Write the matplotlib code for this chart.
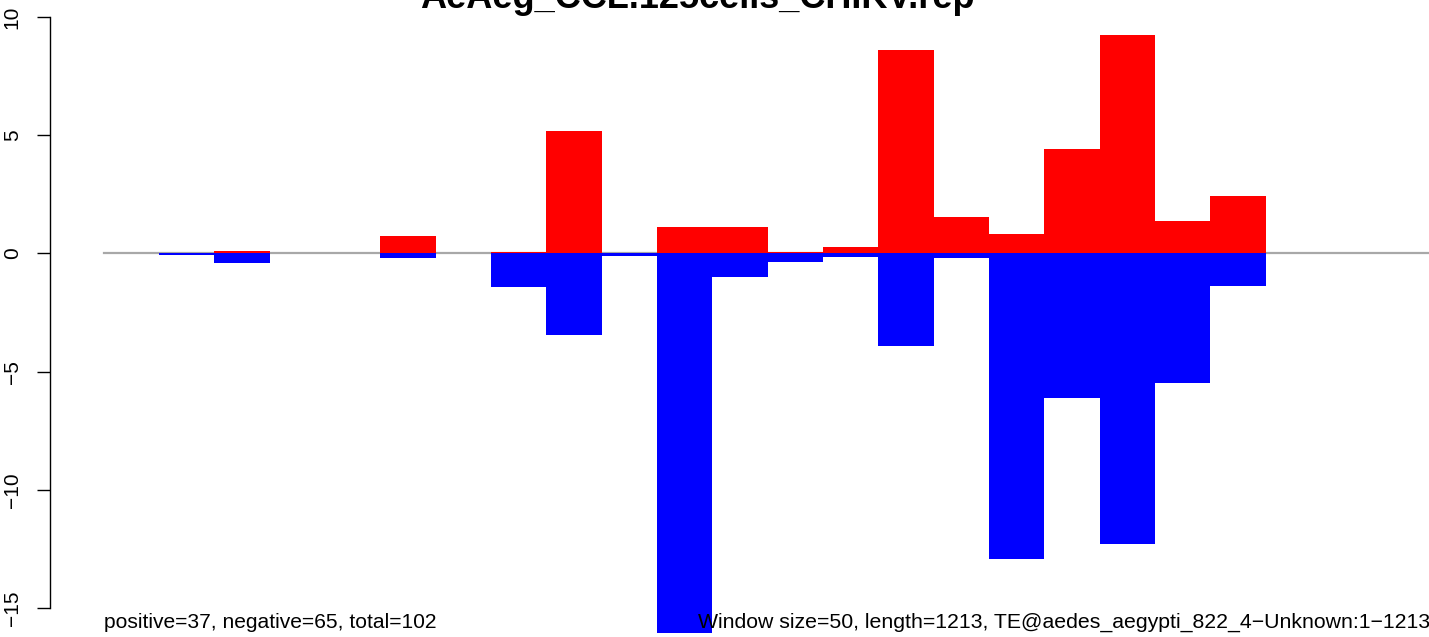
import numpy as np
import matplotlib
matplotlib.use("Agg")
import matplotlib.pyplot as plt

plt.rcParams['font.family'] = ['Liberation Sans', 'DejaVu Sans']

# window coverage, 50 bp windows over a 1213 bp TE
window_size = 50
te_length = 1213
pos_values = [0, 0, 0.10, 0, 0, 0.74, 0, 0.06, 5.18, 0, 1.12, 1.12, 0.06,
              0.28, 8.60, 1.54, 0.83, 4.42, 9.24, 1.37, 2.43, 0, 0, 0, 0]
neg_values = [0, -0.07, -0.41, 0, 0, -0.19, 0, -1.41, -3.44, -0.09, -16.06,
              -1.00, -0.36, -0.15, -3.92, -0.19, -12.92, -6.10, -12.29,
              -5.48, -1.38, 0, 0, 0, 0]
yticks = [-15, -10, -5, 0, 5, 10]

title = "AeAeg_CCL.125cells_CHIKV.rep"
left_note = "positive=37, negative=65, total=102"
right_note = "Window size=50, length=1213, TE@aedes_aegypti_822_4\u2212Unknown:1\u22121213"

starts = np.arange(len(pos_values)) * window_size
widths = np.minimum(window_size, te_length - starts)

W, H = 1429, 637
fig = plt.figure(figsize=(W / 100, H / 100), dpi=100)
ax = fig.add_axes([50 / W, 0, 1 - 50 / W, 1])

ax.plot([0, te_length], [0, 0], color='#a8a8a8', lw=1.6, zorder=1)
ax.bar(starts, pos_values, width=widths, align='edge', color='#ff0000', linewidth=0, zorder=2)
ax.bar(starts, neg_values, width=widths, align='edge', color='#0000ff', linewidth=0, zorder=2)

ax.set_xlim(-48.5, 1197.6)
ax.set_ylim(-16.23, 10.72)

for s in ['top', 'right', 'bottom']:
    ax.spines[s].set_visible(False)
ax.spines['left'].set_bounds(-15, 10)
ax.spines['left'].set_linewidth(1.0)
ax.set_xticks([])
ax.set_yticks(yticks)
ax.set_yticklabels([str(t).replace('-', '\u2212') for t in yticks], rotation=90, va='center')
ax.tick_params(axis='y', length=9.4, width=1.0, pad=11, labelsize=15)

# title is partly above the top edge, as in the original
fig.text(697 / W, 1 - 8 / H, title, ha='center', va='baseline', fontsize=26, fontweight='bold')
fig.text(104 / W, 9 / H, left_note, ha='left', va='baseline', fontsize=15.15)
fig.text(698 / W, 9 / H, right_note, ha='left', va='baseline', fontsize=15.35)

fig.savefig("out.png", dpi=100)
